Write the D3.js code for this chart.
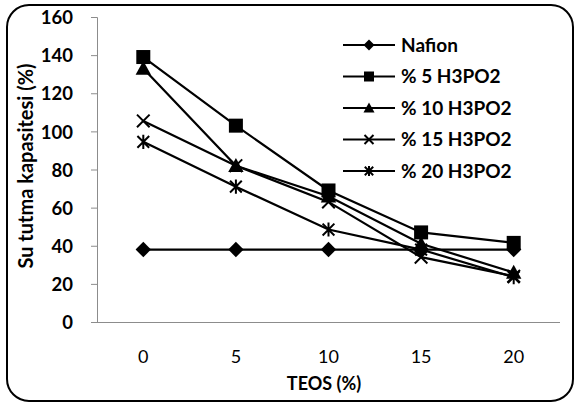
<!DOCTYPE html>
<html>
<head>
<meta charset="utf-8">
<script src="https://cdn.jsdelivr.net/npm/d3@7"></script>
<style>
  html, body { margin: 0; padding: 0; background: #fff; }
  svg { display: block; }
  text { font-family: Lato, "Open Sans", sans-serif; font-weight: bold; fill: #000; }
</style>
</head>
<body>
<svg id="chart" width="577" height="405"></svg>
<script>
// TEOS content (%) on the x axis
const categories = ["0", "5", "10", "15", "20"];
const yTicks = [0, 20, 40, 60, 80, 100, 120, 140, 160];

// Water uptake capacity (%) for each membrane
const nafion   = [38, 38, 38, 38, 38];
const h3po2_5  = [139, 103, 69, 47, 41.5];
const h3po2_10 = [133, 82, 66, 41, 26];
const h3po2_15 = [105.5, 82, 63, 34, 24];
const h3po2_20 = [94.5, 71, 48.5, 38, 23.5];

const seriesNames = ["Nafion", "% 5 H3PO2", "% 10 H3PO2", "% 15 H3PO2", "% 20 H3PO2"];
const seriesValues = [nafion, h3po2_5, h3po2_10, h3po2_15, h3po2_20];
const markerTypes = ["diamond", "square", "triangle", "cross", "star"];

const svg = d3.select("#chart");

// rounded chart frame
svg.append("rect")
  .attr("x", 7).attr("y", 5)
  .attr("width", 566).attr("height", 396)
  .attr("rx", 22).attr("ry", 22)
  .attr("fill", "#fff").attr("stroke", "#000").attr("stroke-width", 2);

const plot = { left: 97, right: 560, top: 17, bottom: 322 };

const x = d3.scaleBand().domain(categories).range([plot.left, plot.right]);
const y = d3.scaleLinear().domain([0, 160]).range([plot.bottom, plot.top]);

// y axis
const yAxis = svg.append("g")
  .attr("transform", `translate(${plot.left},0)`)
  .call(d3.axisLeft(y).tickValues(yTicks).tickSize(6).tickPadding(18).tickFormat(d3.format("d")));
yAxis.select(".domain").attr("stroke", "#8c8c8c");
yAxis.selectAll(".tick line").attr("stroke", "#8c8c8c");
yAxis.selectAll(".tick text").style("font-size", "18.5px").attr("dy", "0.36em");

// x axis
const xAxis = svg.append("g")
  .attr("transform", `translate(0,${plot.bottom})`)
  .call(d3.axisBottom(x).tickSize(0).tickPadding(28));
xAxis.select(".domain").attr("stroke", "#8c8c8c").attr("d", `M${plot.left - 6},0.5H${plot.right}`);
xAxis.selectAll(".tick text").style("font-size", "18px").style("font-weight", "normal");

// axis titles
svg.append("text")
  .attr("x", 324).attr("y", 390)
  .attr("text-anchor", "middle")
  .style("font-size", "18px")
  .text("TEOS (%)");

svg.append("text")
  .attr("transform", "translate(33,166) rotate(-90)")
  .attr("text-anchor", "middle")
  .style("font-size", "20px")
  .text("Su tutma kapasitesi (%)");

// marker drawing
function drawMarker(g, type, cx, cy, s) {
  if (type === "diamond") {
    g.append("path").attr("d", `M${cx},${cy - s * 0.55}L${cx + s * 0.55},${cy}L${cx},${cy + s * 0.55}L${cx - s * 0.55},${cy}Z`).attr("fill", "#000");
  } else if (type === "square") {
    g.append("rect").attr("x", cx - s / 2).attr("y", cy - s / 2).attr("width", s).attr("height", s).attr("fill", "#000");
  } else if (type === "triangle") {
    g.append("path").attr("d", `M${cx},${cy - s * 0.55}L${cx + s * 0.55},${cy + s * 0.45}L${cx - s * 0.55},${cy + s * 0.45}Z`).attr("fill", "#000");
  } else if (type === "cross") {
    const h = s * 0.45;
    g.append("path").attr("d", `M${cx - h},${cy - h}L${cx + h},${cy + h}M${cx - h},${cy + h}L${cx + h},${cy - h}`)
      .attr("stroke", "#000").attr("stroke-width", 2).attr("fill", "none");
  } else if (type === "star") {
    const h = s * 0.42;
    g.append("path").attr("d", `M${cx - h},${cy - h}L${cx + h},${cy + h}M${cx - h},${cy + h}L${cx + h},${cy - h}M${cx},${cy - h * 1.2}L${cx},${cy + h * 1.2}`)
      .attr("stroke", "#000").attr("stroke-width", 2).attr("fill", "none");
  }
}

const line = d3.line()
  .x((d, i) => x(categories[i]) + x.bandwidth() / 2)
  .y(d => y(d));

const seriesG = svg.append("g");
seriesValues.forEach((vals, si) => {
  seriesG.append("path")
    .datum(vals)
    .attr("d", line)
    .attr("fill", "none")
    .attr("stroke", "#000")
    .attr("stroke-width", 2.2);
});
seriesValues.forEach((vals, si) => {
  vals.forEach((v, i) => {
    drawMarker(seriesG, markerTypes[si], x(categories[i]) + x.bandwidth() / 2, y(v), 14);
  });
});

// legend
const legend = svg.append("g");
seriesNames.forEach((name, si) => {
  const ly = 45 + si * 31.5;
  legend.append("line")
    .attr("x1", 343).attr("x2", 395).attr("y1", ly).attr("y2", ly)
    .attr("stroke", "#000").attr("stroke-width", 2.2);
  drawMarker(legend, markerTypes[si], 369, ly, 10);
  legend.append("text")
    .attr("x", 401).attr("y", ly).attr("dy", "0.36em")
    .style("font-size", "19px")
    .text(name);
});
</script>
</body>
</html>
